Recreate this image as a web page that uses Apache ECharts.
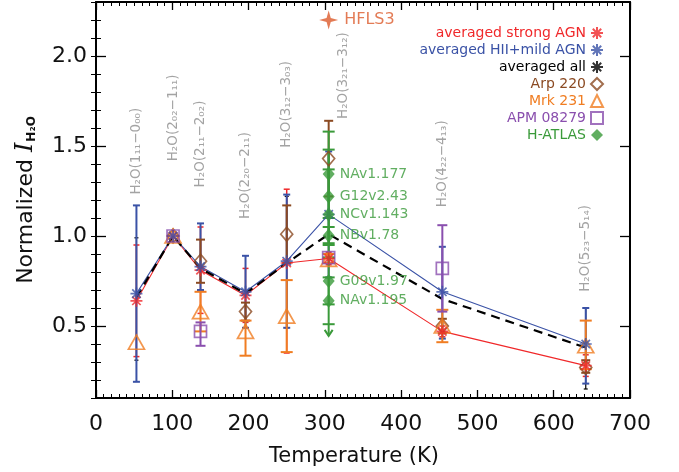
<!DOCTYPE html>
<html>
<head>
<meta charset="utf-8">
<script src="https://cdn.jsdelivr.net/npm/echarts@6/dist/echarts.min.js"></script>
<style>
  html, body { margin: 0; padding: 0; background: #fff; }
  #chart { width: 679px; height: 472px; }
</style>
</head>
<body>
<div id="chart"></div>
<script>
// Upper-level temperatures (K) of the H2O transitions
const lineTemps = [53, 101, 137, 196, 250, 305, 454, 642];
const lineNames = ['H₂O(1₁₁−0₀₀)', 'H₂O(2₀₂−1₁₁)', 'H₂O(2₁₁−2₀₂)', 'H₂O(2₂₀−2₁₁)',
                   'H₂O(3₁₂−3₀₃)', 'H₂O(3₂₁−3₁₂)', 'H₂O(4₂₂−4₁₃)', 'H₂O(5₂₃−5₁₄)'];
const lineNameBase = [1.23, 1.415, 1.27, 1.095, 1.49, 1.65, 1.16, 0.69];

// Averaged normalized intensities
const strongAgn     = [0.64, 1.0, 0.81, 0.67, 0.85, 0.875, 0.47, 0.28];
const strongAgnLow  = [0.33, null, 0.57, 0.52, 0.35, 0.84, 0.44, 0.22];
const strongAgnHigh = [0.95, null, 1.05, 0.82, 1.26, 0.91, 0.50, 0.34];

const hiiAgn     = [0.68, 1.0, 0.83, 0.69, 0.86, 1.12, 0.69, 0.40];
const hiiAgnLow  = [0.19, null, 0.70, 0.49, 0.49, 0.77, 0.43, 0.18];
const hiiAgnHigh = [1.17, null, 1.07, 0.89, 1.23, 1.47, 0.94, 0.60];

const allAvg     = [0.66, 1.0, 0.82, 0.68, 0.85, 1.01, 0.65, 0.38];
const allAvgLow  = [0.31, null, null, null, 0.49, null, null, 0.15];
const allAvgHigh = [0.99, null, null, null, 1.22, null, null, 0.60];

// Individual sources (null = not observed)
const arp220     = [null, 1.0, 0.86, 0.58, 1.01, 1.43, 0.50, 0.27];
const arp220Low  = [null, null, 0.74, 0.53, 0.85, 1.22, 0.46, 0.24];
const arp220High = [null, null, 0.98, 0.63, 1.17, 1.64, 0.54, 0.31];

const mrk231     = [0.41, 1.0, 0.58, 0.47, 0.555, 0.87, 0.50, 0.39];
const mrk231Low  = [null, null, 0.47, 0.335, 0.355, 0.85, 0.41, 0.26];
const mrk231High = [null, null, 0.69, 0.53, 0.755, 0.90, 0.59, 0.53];

const apm08279     = [null, 1.0, 0.47, null, null, 0.88, 0.82, null];
const apm08279Low  = [null, null, 0.39, null, null, null, 0.58, null];
const apm08279High = [null, null, 0.52, null, null, null, 1.06, null];

// H-ATLAS sources, H2O(3_21-3_12)
const hatlasNames = ['NAv1.177', 'G12v2.43', 'NCv1.143', 'NBv1.78', 'G09v1.97', 'NAv1.195'];
const hatlasTemp = 305;
const hatlasValues = [1.344, 1.22, 1.12, 1.003, 0.75, 0.64];
const hatlasLow  = [1.10, 0.96, 0.88, 0.95, 0.62, 0.51];
const hatlasHigh = [1.58, 1.48, 1.37, 1.05, 0.88, 0.77];
const hatlasLimit = [0.51, 0.445];   // downward arrow (from, to)

const hfls3 = [305, 2.2];

// Axis ticks
const xTicks = [0, 100, 200, 300, 400, 500, 600, 700];
const yTicks = [0.5, 1.0, 1.5, 2.0];

const C = {
  red: '#f0282a', blue: '#3a52a6', black: '#000000', brown: '#8b4a22',
  orange: '#f07d22', purple: '#8a4fae', green: '#3a9a3a', hfls: '#dc5a2a', gray: '#8c8c8c'
};
const FONT = 'DejaVu Sans';
const ASTERISK = 'path://M0,-1L0,1M-1,0L1,0M-0.7,-0.7L0.7,0.7M-0.7,0.7L0.7,-0.7';
const STAR4 = 'path://M0,-1L0.22,-0.22L1,0L0.22,0.22L0,1L-0.22,0.22L-1,0L-0.22,-0.22Z';

function pairs(vals) {
  return lineTemps.map((t, i) => vals[i] == null ? null : [t, vals[i]]).filter(Boolean);
}
function errRows(lo, hi) {
  return lineTemps.map((t, i) => lo[i] == null ? null : [t, lo[i], hi[i]]).filter(Boolean);
}
function errorBars(rows, color, cap, width) {
  return {
    type: 'custom', silent: true, z: 3,
    data: rows,
    encode: { x: 0, y: [1, 2] },
    renderItem(params, api) {
      const x = api.value(0);
      const a = api.coord([x, api.value(1)]);
      const b = api.coord([x, api.value(2)]);
      const style = { stroke: color, lineWidth: width, fill: null };
      return {
        type: 'group', children: [
          { type: 'line', shape: { x1: a[0], y1: a[1], x2: b[0], y2: b[1] }, style },
          { type: 'line', shape: { x1: a[0] - cap, y1: a[1], x2: a[0] + cap, y2: a[1] }, style },
          { type: 'line', shape: { x1: b[0] - cap, y1: b[1], x2: b[0] + cap, y2: b[1] }, style }
        ]
      };
    }
  };
}
function trendLine(vals, color, width, dashed) {
  return {
    type: 'line', data: pairs(vals), symbol: 'none', silent: true, z: 2,
    lineStyle: { color, width, type: dashed ? [9, 6] : 'solid' }
  };
}
function markers(name, data, symbol, size, color, filled, z) {
  return {
    type: 'scatter', name, data, symbol, symbolSize: size, z: z || 5, silent: true,
    itemStyle: filled ? { color } : { color: 'rgba(0,0,0,0)', borderColor: color, borderWidth: 1.7 }
  };
}

const chart = echarts.init(document.getElementById('chart'), null, { renderer: 'canvas' });

const axisLineStyle = { color: '#000', width: 2 };
const baseX = {
  type: 'value', min: 0, max: 700, interval: 100,
  axisLine: { show: true, onZero: false, lineStyle: axisLineStyle },
  axisTick: { show: true, inside: true, length: 8, lineStyle: { color: '#000', width: 1.3 } },
  minorTick: { show: true, splitNumber: 10, length: 4, lineStyle: { color: '#000', width: 1 } },
  splitLine: { show: false }
};
const baseY = {
  type: 'value', min: 0.1, max: 2.3,
  axisLine: { show: true, onZero: false, lineStyle: axisLineStyle },
  axisTick: { show: true, inside: true, length: 10, customValues: yTicks, lineStyle: { color: '#000', width: 1.3 } },
  splitLine: { show: false }
};
const minorY = {
  type: 'value', min: 0.1, max: 2.3, interval: 0.1,
  axisLine: { show: false },
  axisTick: { show: true, inside: true, length: 5, lineStyle: { color: '#000', width: 1 } },
  axisLabel: { show: false }, splitLine: { show: false }
};

const legendItems = [
  ['averaged strong AGN', C.red], ['averaged HII+mild AGN', C.blue], ['averaged all', C.black],
  ['Arp 220', C.brown], ['Mrk 231', C.orange], ['APM 08279', C.purple], ['H-ATLAS', C.green]
];

const option = {
  animation: false,
  backgroundColor: '#fff',
  textStyle: { fontFamily: FONT },
  grid: { left: 96, right: 49, top: 2, bottom: 73.5, containLabel: false },
  legend: {
    orient: 'vertical', align: 'right', right: 70, top: 21,
    itemWidth: 12, itemHeight: 12, itemGap: 3,
    selectedMode: false,
    textStyle: { fontFamily: FONT, fontSize: 14, lineHeight: 14 },
    data: legendItems.map(([name, color]) => ({ name, textStyle: { color } }))
  },
  xAxis: [
    Object.assign({}, baseX, {
      position: 'bottom',
      axisLabel: { show: true, fontSize: 22, color: '#111', margin: 15, fontFamily: FONT,
                   customValues: xTicks },
      name: 'Temperature (K)', nameLocation: 'middle', nameGap: 48,
      nameTextStyle: { fontSize: 21, color: '#111', fontFamily: FONT, padding: [0, 18, 0, 0] }
    }),
    Object.assign({}, baseX, { position: 'top', axisLabel: { show: false } })
  ],
  yAxis: [
    Object.assign({}, baseY, {
      position: 'left',
      axisLabel: { show: true, fontSize: 22, color: '#111', margin: 9, fontFamily: FONT,
                   customValues: yTicks, formatter: v => v.toFixed(1) },
      name: '{n|Normalized }{i|I}{s|H₂O}', nameLocation: 'middle', nameGap: 58,
      nameTextStyle: {
        rich: {
          n: { fontSize: 22, color: '#111', fontFamily: FONT },
          i: { fontSize: 24, color: '#111', fontFamily: 'DejaVu Serif', fontStyle: 'italic' },
          s: { fontSize: 12, color: '#111', fontFamily: FONT, fontWeight: 'bold', verticalAlign: 'bottom', padding: [10, 0, 0, 1] }
        }
      }
    }),
    Object.assign({}, minorY, { position: 'left' }),
    Object.assign({}, baseY, { position: 'right', axisLabel: { show: false } }),
    Object.assign({}, minorY, { position: 'right' })
  ],
  series: [
    // trend lines
    trendLine(strongAgn, C.red, 1.1, false),
    trendLine(hiiAgn, C.blue, 1.1, false),
    trendLine(allAvg, C.black, 2.2, true),

    // error bars, back to front
    errorBars(errRows(allAvgLow, allAvgHigh), C.black, 2, 1.2),
    errorBars(errRows(strongAgnLow, strongAgnHigh), C.red, 3, 1.5),
    errorBars(errRows(hiiAgnLow, hiiAgnHigh), C.blue, 3.5, 2),
    errorBars(errRows(arp220Low, arp220High), C.brown, 4.5, 2),
    errorBars(errRows(mrk231Low, mrk231High), C.orange, 6, 2),
    errorBars(errRows(apm08279Low, apm08279High), C.purple, 5, 2),
    errorBars(hatlasLow.map((lo, i) => [hatlasTemp, lo, hatlasHigh[i]]), C.green, 6, 2),
    {
      // lower-limit arrow on the H-ATLAS bar
      type: 'custom', silent: true, z: 3,
      data: [[hatlasTemp, hatlasLimit[0], hatlasLimit[1]]],
      encode: { x: 0, y: [1, 2] },
      renderItem(params, api) {
        const a = api.coord([api.value(0), api.value(1)]);
        const b = api.coord([api.value(0), api.value(2)]);
        const style = { stroke: C.green, lineWidth: 2, fill: null };
        return { type: 'group', children: [
          { type: 'line', shape: { x1: a[0], y1: a[1], x2: b[0], y2: b[1] }, style },
          { type: 'polyline', shape: { points: [[b[0] - 4, b[1] - 6], [b[0], b[1]], [b[0] + 4, b[1] - 6]] }, style }
        ] };
      }
    },

    // markers (the overall average is shown by its dashed line only)
    markers('averaged all', [], ASTERISK, 12, C.black, false, 5),
    markers('averaged strong AGN', pairs(strongAgn), ASTERISK, 12, C.red, false, 6),
    markers('averaged HII+mild AGN', pairs(hiiAgn), ASTERISK, 12, C.blue, false, 6),
    markers('Arp 220', pairs(arp220), 'diamond', [12, 14], C.brown, false),
    markers('Mrk 231', pairs(mrk231), 'triangle', [16, 14], C.orange, false),
    markers('APM 08279', pairs(apm08279), 'rect', 12, C.purple, false),
    Object.assign(markers('H-ATLAS', hatlasNames.map((n, i) => ({ name: n, value: [hatlasTemp, hatlasValues[i]] })),
      'diamond', [12, 14], C.green, true, 7), {
      label: { show: true, position: 'right', distance: 5, formatter: '{b}',
               color: C.green, fontSize: 14, fontFamily: FONT }
    }),
    {
      type: 'scatter', silent: true, z: 7,
      data: [{ name: 'HFLS3', value: hfls3 }],
      symbol: STAR4, symbolSize: 19, itemStyle: { color: C.hfls },
      label: { show: true, position: 'right', distance: 6, formatter: '{b}',
               color: C.hfls, fontSize: 16, fontFamily: FONT }
    },

    // transition labels
    {
      type: 'scatter', silent: true, z: 4, symbolSize: 0,
      data: lineTemps.map((t, i) => ({ name: lineNames[i], value: [t === 305 ? t + 19 : t, lineNameBase[i]] })),
      label: { show: true, position: 'inside', rotate: 90, align: 'left', verticalAlign: 'middle',
               formatter: '{b}', color: C.gray, fontSize: 13.5, fontFamily: FONT }
    }
  ]
};

chart.setOption(option);
</script>
</body>
</html>
